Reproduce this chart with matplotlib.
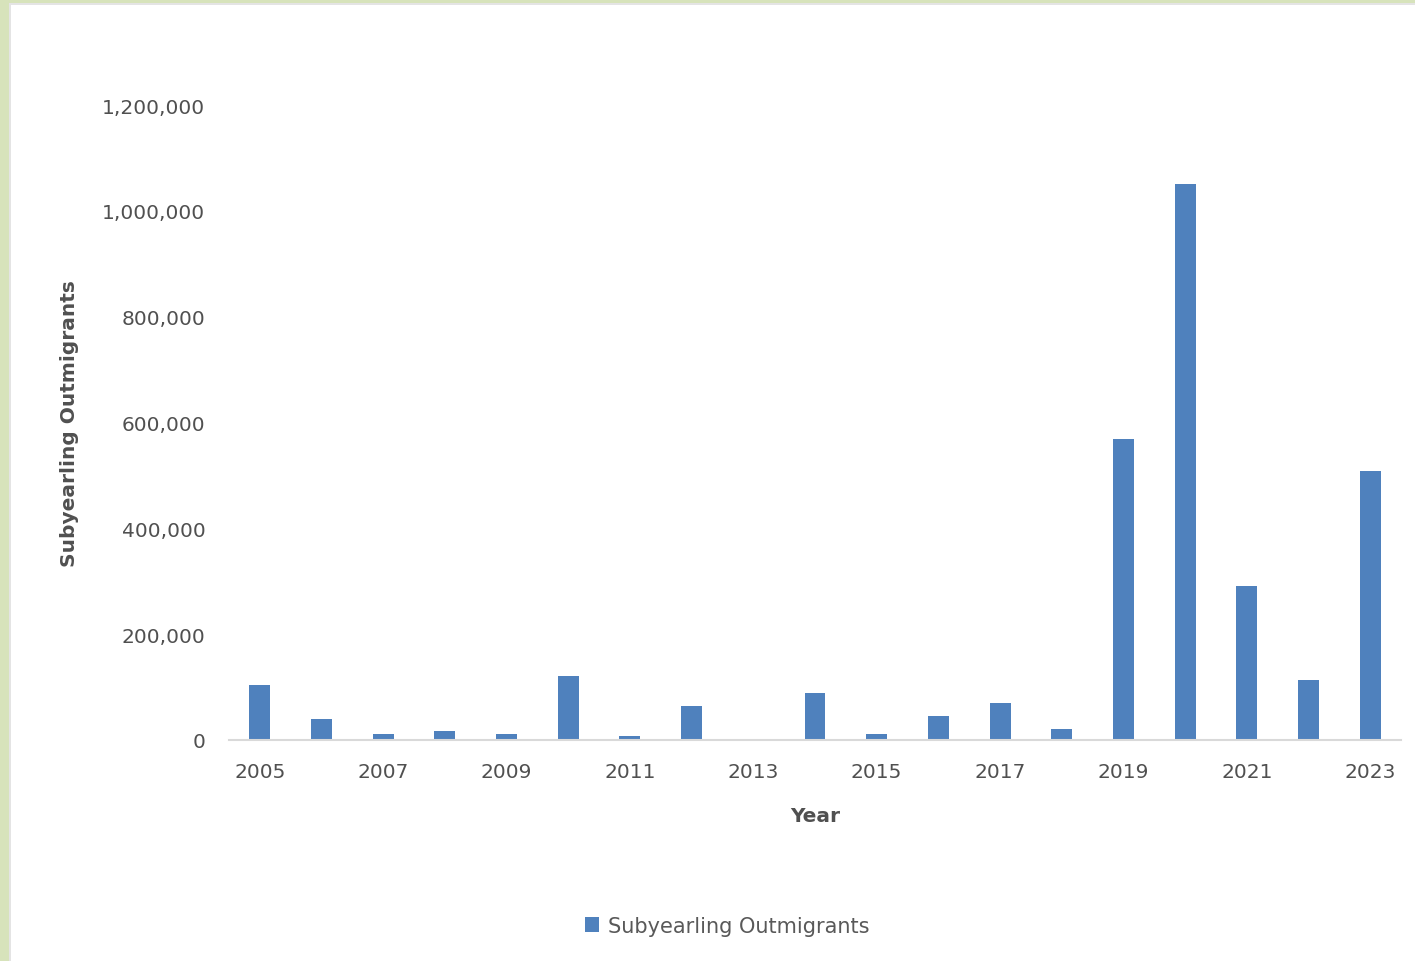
import matplotlib
matplotlib.use('Agg')
import matplotlib.pyplot as plt
from matplotlib.patches import Rectangle
from matplotlib.ticker import FuncFormatter

years = list(range(2005, 2024))
outmigrants = [104000, 39700, 12000, 16500, 12000, 121500, 8000, 65000, 0, 89400,
               12000, 44800, 69300, 20800, 569000, 1051000, 291000, 113400, 508000]
tick_years = [str(y) if (y - 2005) % 2 == 0 else '' for y in years]

plt.rcParams['font.family'] = ['DejaVu Sans']

fig = plt.figure(figsize=(14.15, 9.62), dpi=100)
fig.patch.set_facecolor('white')

# green frame on left and top edges
fig.patches.append(Rectangle((0, 0), 9 / 1415, 1, transform=fig.transFigure,
                             facecolor='#d7e3bb', edgecolor='none', zorder=0))
fig.patches.append(Rectangle((0, 1 - 4 / 962), 1, 4 / 962, transform=fig.transFigure,
                             facecolor='#d7e3bb', edgecolor='none', zorder=0))
fig.patches.append(Rectangle((9 / 1415, 0), 2 / 1415, 1 - 4 / 962, transform=fig.transFigure,
                             facecolor='#e4e4e4', edgecolor='none', zorder=0))
fig.patches.append(Rectangle((9 / 1415, 1 - 6 / 962), 1, 2 / 962, transform=fig.transFigure,
                             facecolor='#e4e4e4', edgecolor='none', zorder=0))

ax = fig.add_axes([229 / 1415, 1 - 741 / 962, 1172 / 1415, 635 / 962])
x = list(range(len(years)))
ax.bar(x, outmigrants, width=0.34, color='#4f81bd', label='Subyearling Outmigrants', zorder=2)

ax.set_xlim(-0.5, len(years) - 0.5)
ax.set_ylim(0, 1200000)
ax.set_yticks(range(0, 1200001, 200000))
ax.yaxis.set_major_formatter(FuncFormatter(lambda v, p: f'{int(v):,}'))
ax.set_xticks(x)
ax.set_xticklabels(tick_years)

for s in ['top', 'right', 'left']:
    ax.spines[s].set_visible(False)
ax.spines['bottom'].set_color('#d9d9d9')
ax.spines['bottom'].set_linewidth(1.5)
ax.tick_params(axis='both', length=0, colors='#505050', labelsize=14.5)
ax.tick_params(axis='y', pad=17)
ax.tick_params(axis='x', pad=16)

ax.set_xlabel('Year', fontsize=14.5, fontweight='bold', color='#505050', labelpad=18)
ax.set_ylabel('Subyearling Outmigrants', fontsize=14.5, fontweight='bold', color='#505050',
              labelpad=17)

fig.legend(loc='center', bbox_to_anchor=(727 / 1415, 1 - 927 / 962), frameon=False,
           fontsize=15, labelcolor='#595959', handlelength=0.7, handleheight=0.7,
           handletextpad=0.4)

fig.savefig('out.png', dpi=100, facecolor='white')
